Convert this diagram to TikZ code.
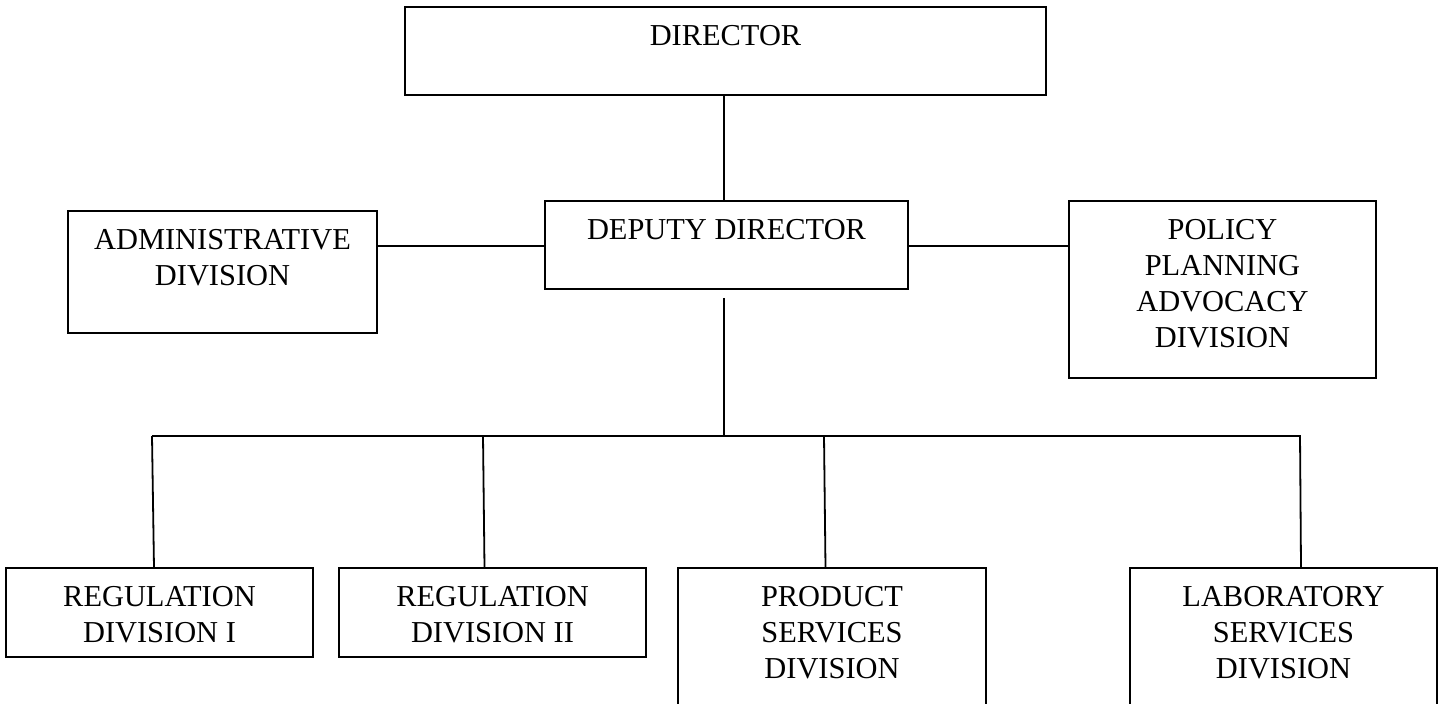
\documentclass[tikz,border=0pt]{standalone}
\usepackage{fontspec}
\setmainfont{Liberation Serif}
\usetikzlibrary{calc}
\begin{document}
\begin{tikzpicture}[x=0.5pt,y=-0.5pt,
  every node/.style={inner sep=0pt, outer sep=0pt},
  unitbox/.style={draw=black, line width=0.9pt, rectangle},
  unitlabel/.style={anchor=north, align=center,
    font=\fontsize{15.2pt}{18pt}\selectfont},
  link/.style={draw=black, line width=0.9pt}]

% page frame
\clip (0,0) rectangle (1443,704);
\fill[white] (0,0) rectangle (1443,704);

% boxes (sizes in pixels, halved to pt)
\node[unitbox, minimum width=320.5pt, minimum height=44pt]   (dir)  at (725.5,51)    {};
\node[unitbox, minimum width=181.5pt, minimum height=44pt]   (dep)  at (726.5,245)   {};
\node[unitbox, minimum width=154.5pt, minimum height=61pt]   (adm)  at (222.5,272)   {};
\node[unitbox, minimum width=153.5pt, minimum height=88.5pt] (pol)  at (1222.5,289.5){};
\node[unitbox, minimum width=153.5pt, minimum height=44.5pt] (reg1) at (159.5,612.5) {};
\node[unitbox, minimum width=153.5pt, minimum height=44.5pt] (reg2) at (492.5,612.5) {};
\node[unitbox, minimum width=154pt,   minimum height=76pt]   (prod) at (832,644)     {};
\node[unitbox, minimum width=153.5pt, minimum height=76pt]   (lab)  at (1283.5,644)  {};

% labels, set near the top of each box
\node[unitlabel] (tdir)  at ($(dir.north)+(0,18)$)  {DIRECTOR};
\node[unitlabel] (tdep)  at ($(dep.north)+(0,18)$)  {DEPUTY DIRECTOR};
\node[unitlabel] (tadm)  at ($(adm.north)+(0,18)$)  {ADMINISTRATIVE\\DIVISION};
\node[unitlabel] (tpol)  at ($(pol.north)+(0,18)$)  {POLICY\\PLANNING\\ADVOCACY\\DIVISION};
\node[unitlabel] (treg1) at ($(reg1.north)+(0,18)$) {REGULATION\\DIVISION I};
\node[unitlabel] (treg2) at ($(reg2.north)+(0,18)$) {REGULATION\\DIVISION II};
\node[unitlabel] (tprod) at ($(prod.north)+(0,18)$) {PRODUCT\\SERVICES\\DIVISION};
\node[unitlabel] (tlab)  at ($(lab.north)+(0,18)$)  {LABORATORY\\SERVICES\\DIVISION};

% side links leave the deputy box slightly below its middle
\coordinate (depW) at ($(dep.west)+(0,1)$);
\coordinate (depE) at ($(dep.east)+(0,1)$);

% trunk and bus coordinates
\coordinate (trunk) at ($(dep.south)+(-2.5,9)$);
\coordinate (hub) at (724,436);
\coordinate (b1) at (152,436);
\coordinate (b2) at (483,436);
\coordinate (b3) at (824,436);
\coordinate (b4) at (1300,436);

% connectors
\draw[link] ($(dir.south)+(-1.5,0)$) -- ($(dep.north)+(-2.5,0)$);
\draw[link] (depW) -- (depW -| adm.east);
\draw[link] (depE) -- (depE -| pol.west);
\draw[link] (trunk) -- (hub);
\draw[link] (b1) -- ($(b4)+(1,0)$);
\draw[link] (b1) -- ($(reg1.north)+(-5.5,0)$);
\draw[link] (b2) -- ($(reg2.north)+(-8,0)$);
\draw[link] (b3) -- ($(prod.north)+(-6.5,0)$);
\draw[link] (b4) -- ($(lab.north)+(17.5,0)$);
\end{tikzpicture}
\end{document}
